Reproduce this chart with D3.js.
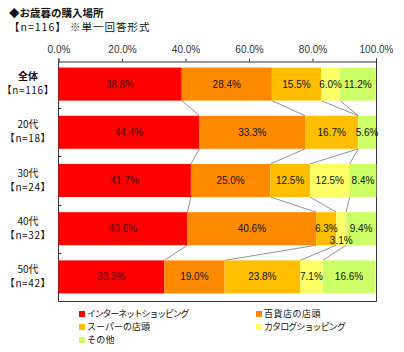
<!DOCTYPE html>
<html><head><meta charset="utf-8">
<script src="https://cdn.jsdelivr.net/npm/d3@7"></script>
<style>body{margin:0;background:#fff}svg{display:block}text{font-family:"Noto Sans CJK JP","Noto Sans",sans-serif}</style>
</head><body><svg id="c" width="404" height="352"></svg>
<script>
const categories = ["全体", "20代", "30代", "40代", "50代"];
const sampleLabels = ["【n=116】", "【n=18】", "【n=24】", "【n=32】", "【n=42】"];
const seriesNames = ["インターネットショッピング", "百貨店の店頭", "スーパーの店頭", "カタログショッピング", "その他"];
const seriesColors = ["#FF0000", "#FF8A00", "#FFBF00", "#FFFF66", "#CCFF66"];
const internet = [38.8, 44.4, 41.7, 40.6, 33.3];
const department = [28.4, 33.3, 25.0, 40.6, 19.0];
const supermarket = [15.5, 16.7, 12.5, 6.3, 23.8];
const catalog = [6.0, 0, 12.5, 3.1, 7.1];
const other = [11.2, 5.6, 8.4, 9.4, 16.6];
const xTicks = [0, 20, 40, 60, 80, 100];
const title = "◆お歳暮の購入場所";
const subtitle = "【n=116】 ※単一回答形式";

const series = [internet, department, supermarket, catalog, other];
const svg = d3.select("#c");
const x = d3.scaleLinear().domain([0, 100]).range([58.5, 376]);
const y = d3.scaleBand().domain(categories).range([60, 301]).paddingInner(0.315).paddingOuter(0.1575);
const plotTop = 61.5, plotBottom = 301.5;

const rows = categories.map((c, i) => {
  let acc = 0;
  return series.map((s, k) => { const x0 = acc; acc += s[i]; return {cat: c, k, v: s[i], x0, x1: acc}; });
});

const g = svg.append("g");
g.append("path").attr("d", `M${x(0)},${plotTop}V${plotBottom}H${x(100)+0.5}V${plotTop}`)
  .attr("fill", "none").attr("stroke", "#333").attr("stroke-width", 1);

// series lines
for (let i = 0; i < rows.length - 1; i++) {
  const yb = y(categories[i]) + y.bandwidth();
  const yt = y(categories[i + 1]);
  for (let k = 0; k < 4; k++) {
    g.append("line").attr("x1", x(rows[i][k].x1)).attr("y1", yb)
      .attr("x2", x(rows[i + 1][k].x1)).attr("y2", yt)
      .attr("stroke", "#777").attr("stroke-width", 0.8);
  }
}

// bars
rows.forEach(r => r.forEach(d => {
  if (d.v <= 0) return;
  g.append("rect").attr("x", x(d.x0)).attr("y", y(d.cat))
    .attr("width", x(d.x1) - x(d.x0)).attr("height", y.bandwidth())
    .attr("fill", seriesColors[d.k]);
}));

// value labels
rows.forEach(r => r.forEach(d => {
  if (d.v <= 0) return;
  const small = d.v < 4;
  g.append("text").attr("x", x((d.x0 + d.x1) / 2))
    .attr("y", y(d.cat) + y.bandwidth() / 2 + (small ? 12 : 0))
    .attr("dy", "0.35em").attr("text-anchor", "middle")
    .attr("font-size", 10).attr("fill", d.k === 0 ? "#3a0000" : "#111")
    .style("font-family", "'Liberation Sans',Arial,sans-serif")
    .text(d.v.toFixed(1) + "%");
}));

// top axis
const ax = d3.axisTop(x).tickValues(xTicks).tickSize(3).tickFormat(d => d.toFixed(1) + "%");
const axg = g.append("g").attr("transform", `translate(0,${plotTop})`).call(ax);
axg.select(".domain").attr("stroke", "#333");
axg.selectAll(".tick line").attr("stroke", "#333");
axg.selectAll(".tick text").attr("font-size", 10).attr("fill", "#333").attr("y", -9)
  .style("font-family", "'Liberation Sans',Arial,sans-serif");

// left ticks at band boundaries
const bounds = categories.slice(1).map(c => y(c) - y.step() * y.paddingInner() / 2);
g.selectAll(".lt").data(bounds).join("line").attr("x1", x(0)).attr("x2", x(0) + 3)
  .attr("y1", d => Math.round(d) + 0.5).attr("y2", d => Math.round(d) + 0.5).attr("stroke", "#333");

// category labels
categories.forEach((c, i) => {
  const cy = y(c) + y.bandwidth() / 2;
  g.append("text").attr("x", 28).attr("y", cy - 4).attr("text-anchor", "middle")
    .attr("font-size", 10).attr("font-weight", i === 0 ? "bold" : "normal").attr("fill", "#111").text(c);
  g.append("text").attr("x", 28).attr("y", cy + 10).attr("text-anchor", "middle")
    .attr("font-size", 10).attr("letter-spacing", 0.6).attr("fill", "#111").text(sampleLabels[i]);
});

// title
svg.append("text").attr("x", 9).attr("y", 17).attr("font-size", 10.5).attr("font-weight", "bold").attr("fill", "#111").text(title);
svg.append("text").attr("x", 9).attr("y", 31).attr("font-size", 10.5).attr("letter-spacing", 1).attr("fill", "#111").text(subtitle);

// legend
const legPos = [[79, 314], [256, 314], [79, 327], [256, 327], [79, 340]];
const legSpacing = [-1.2, 0.5, 0, -0.9, 0.3];
seriesNames.forEach((n, k) => {
  const [lx, ly] = legPos[k];
  svg.append("rect").attr("x", lx).attr("y", ly - 3).attr("width", 6).attr("height", 6).attr("fill", seriesColors[k]);
  svg.append("text").attr("x", lx + 8).attr("y", ly).attr("dy", "0.35em").attr("font-size", 9)
    .attr("letter-spacing", legSpacing[k]).attr("fill", "#111").text(n);
});
</script></body></html>
